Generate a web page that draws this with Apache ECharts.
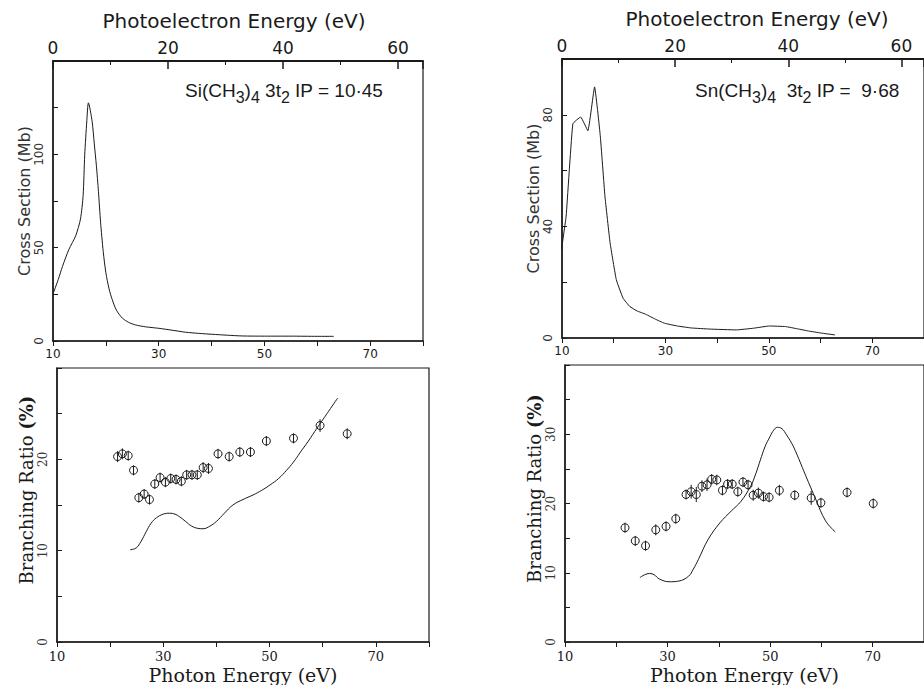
<!DOCTYPE html>
<html>
<head>
<meta charset="utf-8">
<script src="https://cdn.jsdelivr.net/npm/echarts@6/dist/echarts.min.js"></script>
<style>html,body{margin:0;padding:0;background:#fff}#c{width:924px;height:685px}</style>
</head>
<body>
<div id="c"></div>
<script>
// ---- Data ----
// Si(CH3)4 3t2 cross section (photon energy eV, Mb)
const siCsEnergy = [10.1, 11.0, 11.8, 13.0, 14.3, 15.2, 15.7, 16.0, 16.4, 16.7, 17.4, 17.8, 18.2, 18.6, 19.0, 19.5, 20.0, 20.6, 21.2, 22.0, 23.1, 24.3, 25.6, 27.5, 30.0, 32.5, 35.1, 37.5, 40.1, 43.0, 45.8, 50.0, 55.0, 60.0, 63.1];
const siCsValue  = [26, 33, 40, 49, 56.4, 65.4, 78, 99.6, 118, 127.6, 117.7, 106, 94.2, 80, 63.6, 48, 36.6, 28, 22.2, 16.5, 12.3, 10, 8.6, 7.6, 6.8, 5.8, 4.7, 4.1, 3.6, 3.1, 2.7, 2.6, 2.6, 2.5, 2.5];
// Sn(CH3)4 3t2 cross section
const snCsEnergy = [9.9, 10.8, 12.1, 13.6, 15.0, 16.3, 17.4, 18.3, 19.3, 20.5, 21.8, 23.1, 24.5, 26.2, 28.0, 29.8, 32.3, 35.0, 38.6, 43.7, 47.0, 50.1, 53.2, 55.5, 57.7, 60.0, 62.8];
const snCsValue  = [31.7, 43.7, 76.8, 79.2, 74.3, 90, 72.5, 50.9, 34.1, 20.9, 14.3, 11.3, 9.7, 8.5, 6.8, 5.3, 4.3, 3.6, 3.2, 2.9, 3.5, 4.3, 4.1, 3.3, 2.5, 1.8, 1.1];
// Si branching ratio: measured points (photon eV, %, error)
const siBrEnergy = [21.4, 22.3, 23.4, 24.4, 25.4, 26.4, 27.4, 28.4, 29.4, 30.4, 31.4, 32.4, 33.4, 34.4, 35.4, 36.4, 37.5, 38.5, 40.3, 42.4, 44.4, 46.4, 49.4, 54.5, 59.5, 64.6];
const siBrValue  = [20.3, 20.6, 20.4, 18.8, 15.8, 16.2, 15.6, 17.3, 18.0, 17.5, 17.9, 17.8, 17.6, 18.3, 18.3, 18.3, 19.1, 19.0, 20.6, 20.3, 20.8, 20.8, 22.0, 22.3, 23.7, 22.8];
const siBrError  = [0.6, 0.6, 0.4, 0.4, 0.5, 0.5, 0.5, 0.4, 0.4, 0.4, 0.5, 0.4, 0.4, 0.4, 0.4, 0.4, 0.6, 0.6, 0.4, 0.4, 0.4, 0.4, 0.4, 0.5, 0.7, 0.6];
// Si branching ratio: calculated curve
const siCalcEnergy = [23.8, 24.9, 25.8, 26.8, 27.7, 28.7, 30.0, 31.2, 32.2, 33.1, 34.2, 35.3, 36.4, 37.5, 38.8, 40.0, 41.5, 43.1, 45.0, 46.9, 48.5, 50.1, 51.7, 53.2, 54.5, 55.7, 57.3, 58.9, 60.8, 62.8];
const siCalcValue  = [10.1, 10.3, 11.0, 12.1, 13.0, 13.6, 14.0, 14.1, 14.0, 13.7, 13.2, 12.7, 12.45, 12.4, 12.7, 13.2, 14.1, 15.0, 15.6, 16.1, 16.6, 17.2, 17.9, 18.8, 19.7, 20.7, 22.0, 23.4, 25.0, 26.7];
// Sn branching ratio: measured points
const snBrEnergy = [21.7, 23.7, 25.7, 27.7, 29.7, 31.6, 33.6, 34.6, 35.6, 36.7, 37.7, 38.6, 39.6, 40.7, 41.7, 42.6, 43.7, 44.7, 45.7, 46.7, 47.7, 48.7, 49.8, 51.8, 54.8, 58.0, 59.9, 65.0, 70.1];
const snBrValue  = [16.5, 14.6, 13.9, 16.2, 16.7, 17.8, 21.3, 21.7, 21.3, 22.5, 22.7, 23.5, 23.4, 21.9, 22.8, 22.8, 21.7, 23.1, 22.7, 21.2, 21.5, 21.0, 20.9, 21.9, 21.2, 20.8, 20.1, 21.6, 20.0];
const snBrError  = [0.5, 0.4, 0.6, 0.8, 0.6, 0.6, 0.7, 1.0, 1.1, 0.85, 0.9, 0.75, 0.75, 0.6, 0.6, 0.5, 0.7, 0.5, 0.6, 0.8, 0.8, 0.7, 0.7, 0.8, 0.7, 1.0, 0.6, 0.7, 0.6];
// Sn branching ratio: calculated curve
const snCalcEnergy = [24.6, 25.5, 26.5, 27.4, 28.4, 30.3, 32.2, 34.1, 35.0, 36.0, 37.9, 40.2, 42.4, 44.3, 46.2, 47.2, 48.1, 49.0, 50.0, 50.7, 51.4, 52.3, 53.2, 54.2, 55.1, 56.0, 57.0, 58.9, 60.8, 62.7];
const snCalcValue  = [9.3, 9.7, 9.9, 9.7, 9.1, 8.7, 8.8, 9.5, 10.5, 11.9, 14.8, 17.2, 18.9, 20.3, 22.5, 24.3, 26.3, 28.2, 29.7, 30.6, 31.0, 30.8, 29.9, 28.7, 27.3, 25.7, 23.9, 20.6, 17.5, 15.9];

// Tick labels
const photonTicks = [10, 30, 50, 70];
const peTicks = [0, 20, 40, 60];
const siCsTicks = [0, 50, 100];
const snCsTicks = [0, 40, 80];
const siBrTicks = [0, 10, 20];
const snBrTicks = [0, 10, 20, 30];

// Texts
const siLabel = ['Si(CH', '3', ')', '4', ' 3t', '2', ' IP = 10·45'];
const snLabel = ['Sn(CH', '3', ')', '4', '  3t', '2', ' IP =  9·68'];

function zip(a, b) { return a.map((v, i) => [v, b[i]]); }
function zip3(a, b, c) { return a.map((v, i) => [v, b[i], c[i]]); }
function richLabel(parts) {
  return parts.map((p, i) => (i % 2 === 0 ? '{n|' + p + '}' : '{s|' + p + '}')).join('');
}

const INK = '#1a1a1a';
const SANS = '"DejaVu Sans", sans-serif';
const SERIF = '"DejaVu Serif", serif';

function photonAxis(grid, small, labels) {
  return {
    type: 'value', gridIndex: grid, position: 'bottom', min: 10, max: 80, interval: 20,
    axisLine: { show: true, onZero: false, lineStyle: { color: INK, width: 1.5 } },
    axisTick: { show: true, inside: false, length: 5, lineStyle: { color: INK } },
    minorTick: { show: true, splitNumber: 2, length: 5, lineStyle: { color: INK } },
    splitLine: { show: false }, minorSplitLine: { show: false },
    axisLabel: {
      show: true, margin: small ? 7 : 8, color: INK,
      fontFamily: small ? SANS : SERIF, fontSize: small ? 12 : 13,
      showMaxLabel: false,
      formatter: v => (labels.includes(v) ? String(v) : '')
    },
    name: small ? '' : 'Photon Energy (eV)',
    nameLocation: 'middle', nameGap: 23,
    nameTextStyle: { fontFamily: SERIF, fontSize: 19, color: INK }
  };
}
function peAxis(grid, max, pad) {
  return {
    type: 'value', gridIndex: grid, position: 'top', min: 0, max: max, interval: 20,
    axisLine: { show: true, onZero: false, lineStyle: { color: INK, width: 1.8 } },
    axisTick: { show: true, inside: true, length: 8, lineStyle: { color: INK, width: 1.5 } },
    minorTick: { show: true, splitNumber: 2, length: 4, lineStyle: { color: INK } },
    splitLine: { show: false }, minorSplitLine: { show: false },
    axisLabel: {
      show: true, margin: 5, color: INK, fontFamily: SANS, fontSize: 17,
      showMaxLabel: false,
      formatter: v => (peTicks.includes(v) ? String(v) : '')
    },
    name: 'Photoelectron Energy (eV)', nameLocation: 'middle', nameGap: 30,
    nameTextStyle: { fontFamily: SANS, fontSize: 20, color: INK, padding: pad }
  };
}
function yAxis(grid, max, interval, labels, name, isBr, pad) {
  return {
    type: 'value', gridIndex: grid, min: 0, max: max, interval: interval,
    axisLine: { show: true, onZero: false, lineStyle: { color: INK, width: 1.5 } },
    axisTick: { show: true, inside: true, length: 5, lineStyle: { color: INK } },
    minorTick: { show: true, splitNumber: 2, length: 5, lineStyle: { color: INK } },
    splitLine: { show: false }, minorSplitLine: { show: false },
    axisLabel: {
      show: true, rotate: 90, margin: 8, color: '#333',
      fontFamily: isBr ? SERIF : SANS, fontSize: 12, showMaxLabel: false,
      formatter: v => (labels.includes(v) ? String(v) : '')
    },
    name: isBr ? '{a|Branching Ratio }{b|(%)}' : name,
    nameLocation: 'middle', nameRotate: 90, nameGap: isBr ? 22 : 20,
    nameTextStyle: isBr ? {
      padding: pad,
      rich: {
        a: { fontFamily: SERIF, fontSize: 18, color: INK },
        b: { fontFamily: SERIF, fontSize: 18, fontWeight: 'bold', color: INK }
      }
    } : { fontFamily: SANS, fontSize: 16, color: '#333', padding: pad }
  };
}

function errRender(params, api) {
  const x = api.value(0), y = api.value(1), e = api.value(2);
  const c = api.coord([x, y]);
  const t = api.coord([x, y + e]);
  const b = api.coord([x, y - e]);
  const st = { stroke: INK, lineWidth: 1, fill: null };
  return {
    type: 'group',
    children: [
      { type: 'circle', shape: { cx: c[0], cy: c[1], r: 4 }, style: { stroke: INK, lineWidth: 1, fill: 'rgba(0,0,0,0)' } },
      { type: 'line', shape: { x1: t[0], y1: Math.min(t[1], c[1] - 5), x2: b[0], y2: Math.max(b[1], c[1] + 5) }, style: st }
    ]
  };
}

const LSANS = '"Liberation Sans", Arial, sans-serif';
const titleRich = {
  n: { fontFamily: LSANS, fontSize: 19, fontWeight: 'normal', color: INK, lineHeight: 30 },
  s: { fontFamily: LSANS, fontSize: 16, fontWeight: 'normal', color: INK, lineHeight: 16, verticalAlign: 'bottom' }
};

const option = {
  backgroundColor: '#ffffff',
  animation: false,
  title: [
    { text: richLabel(siLabel), left: 185, top: 75, padding: 0, textStyle: { fontWeight: 'normal', rich: titleRich } },
    { text: richLabel(snLabel), left: 695, top: 75, padding: 0, textStyle: { fontWeight: 'normal', rich: titleRich } }
  ],
  grid: [
    { left: 53, top: 61, width: 370, height: 280, show: true, borderColor: INK, borderWidth: 1.2, backgroundColor: 'transparent' },
    { left: 562, top: 59, width: 368, height: 279, show: true, borderColor: INK, borderWidth: 1.2, backgroundColor: 'transparent' },
    { left: 57, top: 368, width: 372, height: 276, show: true, borderColor: INK, borderWidth: 1.2, backgroundColor: 'transparent' },
    { left: 565, top: 365, width: 370, height: 278, show: true, borderColor: INK, borderWidth: 1.2, backgroundColor: 'transparent' }
  ],
  xAxis: [
    photonAxis(0, true, photonTicks),
    peAxis(0, 64.35, [0, 8, 0, 0]),
    photonAxis(1, true, photonTicks),
    peAxis(1, 64.0, [0, 0, 0, 28]),
    photonAxis(2, false, photonTicks),
    photonAxis(3, false, photonTicks)
  ],
  yAxis: [
    yAxis(0, 150, 50, siCsTicks, 'Cross Section (Mb)', false, [0, 0, 0, 0]),
    yAxis(1, 100, 40, snCsTicks, 'Cross Section (Mb)', false, [0, 0, 0, 0]),
    yAxis(2, 30, 10, siBrTicks, '', true, [0, 0, 0, 30]),
    yAxis(3, 40, 10, snBrTicks, '', true, [0, 0, 0, 30])
  ],
  series: [
    { type: 'line', xAxisIndex: 0, yAxisIndex: 0, data: zip(siCsEnergy, siCsValue), smooth: 0.25, showSymbol: false, lineStyle: { color: INK, width: 1 } },
    { type: 'line', xAxisIndex: 2, yAxisIndex: 1, data: zip(snCsEnergy, snCsValue), smooth: 0.1, showSymbol: false, lineStyle: { color: INK, width: 1 } },
    { type: 'custom', xAxisIndex: 4, yAxisIndex: 2, data: zip3(siBrEnergy, siBrValue, siBrError), renderItem: errRender, encode: { x: 0, y: 1 } },
    { type: 'line', xAxisIndex: 4, yAxisIndex: 2, data: zip(siCalcEnergy, siCalcValue), smooth: 0.4, showSymbol: false, lineStyle: { color: INK, width: 1 } },
    { type: 'custom', xAxisIndex: 5, yAxisIndex: 3, data: zip3(snBrEnergy, snBrValue, snBrError), renderItem: errRender, encode: { x: 0, y: 1 } },
    { type: 'line', xAxisIndex: 5, yAxisIndex: 3, data: zip(snCalcEnergy, snCalcValue), smooth: 0.4, showSymbol: false, lineStyle: { color: INK, width: 1 } }
  ]
};

const chart = echarts.init(document.getElementById('c'), null, { renderer: 'svg' });
chart.setOption(option);
</script>
</body>
</html>
